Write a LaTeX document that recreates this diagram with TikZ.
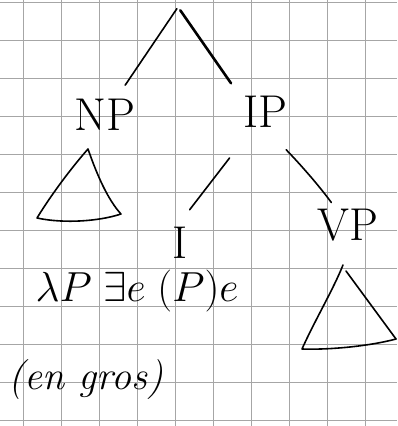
\RequirePackage{fix-cm}
\documentclass[tikz,border=0pt]{standalone}
\usepackage{amsmath, amssymb}
\usepackage{tikz}
\usetikzlibrary{positioning}

\tikzset{
  lbl/.style={font=\fontsize{46}{52}\selectfont, inner sep=2pt},
  branch/.style={line width=1.6pt, line cap=round},
  tri/.style={line width=1.6pt, line join=round, line cap=round},
  gridline/.style={gray!70, line width=0.8pt}
}

\begin{document}
\begin{tikzpicture}[x=1pt, y=-1pt]
  \useasboundingbox (0,0) rectangle (397,426);
  % squared paper
  \foreach \gx in {23,61,...,365} \draw[gridline] (\gx,0) -- (\gx,426);
  \foreach \gy in {2,40,...,420} \draw[gridline] (0,\gy) -- (397,\gy);

  % tree
  \coordinate (top) at (178,7);
  \node[lbl] (np) at (105,115) {NP};
  \node[lbl] (ip) at (265,112) {IP};
  \node[lbl] (i) at (180,243) {I};
  \node[lbl] (vp) at (348,225) {VP};

  \draw[branch, shorten <=2pt, shorten >=36pt] (top) -- (np.center);
  \draw[branch, line width=2.6pt, shorten <=4pt, shorten >=35pt] (top) -- ([xshift=-14pt]ip.center);
  \draw[branch, shorten <=58pt, shorten >=42pt] (ip.center) -- ([xshift=-16pt]i.center);
  \draw[branch, shorten <=62pt, shorten >=28pt] ([xshift=-28pt]ip.center) to[bend left=8] (vp.center);

  % triangles
  \draw[tri] (88,149) .. controls (73,166) and (53,192) .. (37,218)
    .. controls (65,224) and (100,221) .. (121,214)
    .. controls (108,200) and (97,175) .. (88,149);
  \draw[tri] (346,271) -- (396,339);
  \draw[tri] (396,339) .. controls (370,346) and (330,350) .. (302,349)
    .. controls (315,320) and (333,290) .. (343,265);

  % meaning of I
  \node[font=\fontsize{42}{48}\selectfont] (sem) at (137,291) {$\lambda P\;\exists e\;(P)e$};
  \node[font=\fontsize{40}{46}\selectfont\itshape] (gloss) at (86,380) {(en gros)};
\end{tikzpicture}
\end{document}
